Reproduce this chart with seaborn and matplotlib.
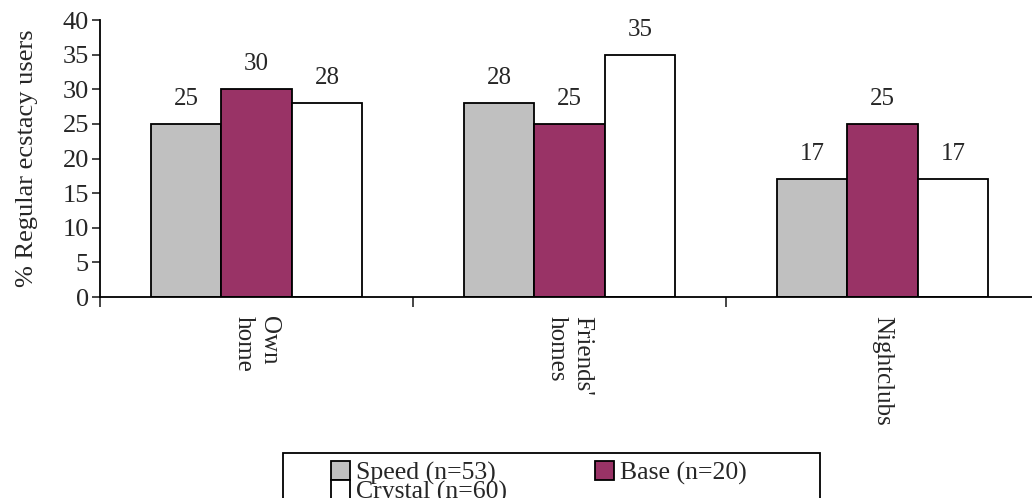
import matplotlib
matplotlib.use("Agg")
import matplotlib.pyplot as plt
import seaborn as sns
import pandas as pd
from matplotlib.patches import Patch, Rectangle

categories = ["Own\nhome", "Friends'\nhomes", "Nightclubs"]
series = ["Speed (n=53)", "Base (n=20)", "Crystal (n=60)"]
speed = [25, 28, 17]
base = [30, 25, 25]
crystal = [28, 35, 17]
colors = ["#C0C0C0", "#993366", "#FFFFFF"]

rows = []
for s, vals in zip(series, [speed, base, crystal]):
    for c, v in zip(categories, vals):
        rows.append({"cat": c, "series": s, "val": v})
df = pd.DataFrame(rows)

sns.set_style("white")
plt.rcParams["font.family"] = ["Liberation Serif", "DejaVu Serif"]

fig = plt.figure(figsize=(10.32, 4.98), dpi=100)
ax = fig.add_axes([100/1032, (498-297)/498, 939/1032, 277/498])

sns.barplot(data=df, x="cat", y="val", hue="series", order=categories,
            hue_order=series, palette=colors, width=0.675, edgecolor="black",
            linewidth=1.3, ax=ax, legend=False, saturation=1)

for cont in ax.containers:
    ax.bar_label(cont, fmt="%d", padding=10, fontsize=18)

ax.set_xlim(-0.5, 2.5)
ax.set_ylim(0, 40)
ax.set_yticks(range(0, 45, 5))
ax.tick_params(axis="y", direction="out", length=6, width=1.2, labelsize=19, pad=2, left=True)
ax.set_xticks(range(3))
ax.set_xticklabels(categories, rotation=270, fontsize=18, va="top", ha="center",
                   multialignment="left")
ax.tick_params(axis="x", which="major", length=0, pad=14)
ax.set_xticks([-0.5, 0.5, 1.5, 2.5], minor=True)
ax.tick_params(axis="x", which="minor", direction="out", length=7, width=1.2, bottom=True)
ax.set_xlabel("")
ax.set_ylabel("% Regular ecstacy users", fontsize=19, labelpad=18)
for side in ["top", "right"]:
    ax.spines[side].set_visible(False)
for side in ["left", "bottom"]:
    ax.spines[side].set_color("black")
    ax.spines[side].set_linewidth(1.3)

# legend frame
fig.add_artist(Rectangle((283/1032, -0.05), (820-283)/1032, 0.05 + (498-453)/498,
                         transform=fig.transFigure, facecolor="none",
                         edgecolor="black", linewidth=1.3, clip_on=False))

order = [0, 2, 1]
handles = [Patch(facecolor=colors[i], edgecolor="black", linewidth=1.3) for i in order]
labels = [series[i] for i in order]
leg = fig.legend(handles, labels, loc="upper left",
                 bbox_to_anchor=(326/1032, 1 - 456/498), ncol=2,
                 frameon=False, fontsize=18.5,
                 handlelength=0.75, handleheight=0.75, handletextpad=0.2,
                 labelspacing=-0.2, columnspacing=3.45, borderpad=0.2,
                 borderaxespad=0)

fig.savefig("out.png", dpi=100)
